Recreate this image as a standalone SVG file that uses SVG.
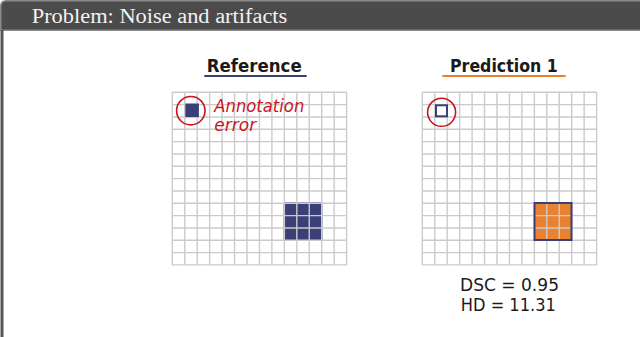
<svg xmlns="http://www.w3.org/2000/svg" xmlns:xlink="http://www.w3.org/1999/xlink" width="640" height="337" viewBox="0 0 640 337">
  <style>
    .grid { fill: none; stroke: #cbcbcb; stroke-width: 1.4; }
    .title { font-family: "DejaVu Sans", "Liberation Sans", sans-serif; font-weight: bold; font-size: 17.5px; fill: #1a1a1a; text-anchor: middle; }
    .anno { font-family: "DejaVu Sans", "Liberation Sans", sans-serif; font-style: italic; font-size: 17px; fill: #c8161e; }
    .metric { font-family: "DejaVu Sans", "Liberation Sans", sans-serif; font-size: 18px; fill: #1a1a1a; text-anchor: middle; }
    .ring { fill: none; stroke: #c8161e; stroke-width: 1.6; }
    .navy { fill: #3a3f78; }
  </style>
  <defs>
    <path id="grid14" class="grid" d="M0 0V172.62M12.45 0V172.62M24.9 0V172.62M37.35 0V172.62M49.8 0V172.62M62.25 0V172.62M74.7 0V172.62M87.15 0V172.62M99.6 0V172.62M112.05 0V172.62M124.5 0V172.62M136.95 0V172.62M149.4 0V172.62M161.85 0V172.62M174.3 0V172.62M0 0H174.3M0 12.33H174.3M0 24.66H174.3M0 36.99H174.3M0 49.32H174.3M0 61.65H174.3M0 73.98H174.3M0 86.31H174.3M0 98.64H174.3M0 110.97H174.3M0 123.3H174.3M0 135.63H174.3M0 147.96H174.3M0 160.29H174.3M0 172.62H174.3"/>
  </defs>
  <rect x="0" y="0" width="640" height="337" fill="#ffffff"/>

  <g id="header">
    <path d="M0 31V6Q0 0 6 0H640V31Z" fill="#8a8a8a"/>
    <path d="M1.5 29.5V6.5Q1.5 1.5 6.5 1.5H640V29.5Z" fill="#4b4b4b"/>
    <rect x="0.5" y="30" width="3" height="307" fill="#555555"/>
    <text x="31.7" y="22.7" font-family="'Liberation Serif', 'DejaVu Serif', serif" font-size="20" fill="#f2f2f2" textLength="255.6" lengthAdjust="spacingAndGlyphs">Problem: Noise and artifacts</text>
  </g>

  <g id="reference-panel">
    <text class="title" x="254.2" y="71.5" textLength="95" lengthAdjust="spacingAndGlyphs">Reference</text>
    <rect x="204.3" y="75" width="102.4" height="2" class="navy"/>
    <rect x="283.6" y="202.3" width="38.8" height="38.6" class="navy"/>
    <use xlink:href="#grid14" href="#grid14" x="172.3" y="92.3"/>
    <rect x="185.3" y="103.5" width="13.6" height="13.6" class="navy"/>
    <circle class="ring" cx="190.8" cy="110.7" r="14.2"/>
    <text class="anno" x="214.3" y="112.3" textLength="90" lengthAdjust="spacingAndGlyphs">Annotation</text>
    <text class="anno" x="214.3" y="131">error</text>
  </g>

  <g id="prediction-panel">
    <text class="title" x="503.9" y="72.3" textLength="107.7" lengthAdjust="spacingAndGlyphs">Prediction 1</text>
    <rect x="442.3" y="75" width="123.4" height="2" fill="#e8822e"/>
    <rect x="534.5" y="203" width="37" height="37" fill="#e8822e"/>
    <use xlink:href="#grid14" href="#grid14" x="422.3" y="92.3"/>
    <rect x="534.5" y="203" width="37" height="37" fill="none" stroke="#3a3f78" stroke-width="2"/>
    <rect x="436" y="105.3" width="11" height="11" fill="none" stroke="#3a3f78" stroke-width="2"/>
    <circle class="ring" cx="441.6" cy="112.3" r="14"/>
  </g>

  <g id="metrics">
    <text class="metric" x="509.5" y="291.3" textLength="99" lengthAdjust="spacingAndGlyphs">DSC = 0.95</text>
    <text class="metric" x="508.3" y="311.3" textLength="95" lengthAdjust="spacingAndGlyphs">HD = 11.31</text>
  </g>
</svg>
